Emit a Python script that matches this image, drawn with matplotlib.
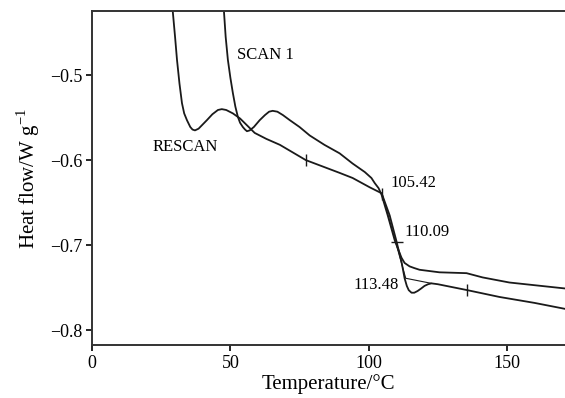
import matplotlib.pyplot as plt

plt.rcParams['font.family'] = ['Liberation Serif', 'DejaVu Serif']

# RESCAN trace (temperature in degC, heat flow in W/g)
rescan_t = [28.8, 29.2, 30.0, 30.7, 31.6, 32.5, 33.3, 34.3, 35.5, 36.3, 37.2,
            38.5, 40.0, 41.5, 43.5, 45.5, 46.9, 48.5, 50.9, 53.5, 56.0, 58.8,
            63.0, 67.9, 77.3, 89.5, 94.2, 100.4, 104.7, 107.6, 110.1, 111.9,
            113.0, 113.8, 114.5, 115.5, 116.5, 117.7, 119.0, 120.2, 121.5,
            122.7, 125.0, 135.7, 147.3, 160.0, 171.0]
rescan_hf = [-0.400, -0.426, -0.455, -0.482, -0.510, -0.533, -0.545, -0.553,
             -0.561, -0.564, -0.565, -0.563, -0.558, -0.553, -0.546, -0.541,
             -0.540, -0.541, -0.545, -0.551, -0.559, -0.568, -0.575, -0.582,
             -0.600, -0.615, -0.621, -0.632, -0.639, -0.665, -0.696, -0.720,
             -0.739, -0.748, -0.753, -0.756, -0.756, -0.754, -0.751, -0.748,
             -0.746, -0.745, -0.746, -0.753, -0.761, -0.768, -0.775]

# SCAN 1 trace
scan1_t = [47.4, 47.7, 48.3, 49.1, 50.0, 50.9, 51.8, 52.7, 53.5, 54.5, 55.3,
           56.0, 57.0, 58.5, 60.6, 62.5, 64.0, 65.3, 67.0, 69.0, 71.5, 75.0,
           78.7, 84.0, 89.5, 94.2, 98.6, 101.0, 102.2, 103.6, 104.7, 106.9,
           109.4, 110.8, 111.9, 113.0, 114.8, 116.5, 118.4, 125.6, 135.4,
           141.2, 150.9, 171.0]
scan1_hf = [-0.400, -0.426, -0.455, -0.482, -0.503, -0.521, -0.537, -0.549,
            -0.556, -0.561, -0.564, -0.566, -0.565, -0.561, -0.553, -0.547,
            -0.543, -0.542, -0.543, -0.547, -0.553, -0.561, -0.571, -0.582,
            -0.592, -0.604, -0.614, -0.621, -0.627, -0.633, -0.641, -0.665,
            -0.694, -0.706, -0.715, -0.721, -0.725, -0.727, -0.729, -0.732,
            -0.733, -0.738, -0.744, -0.751]

# analysis marks on the RESCAN trace
mark_t = [77.3, 104.9, 135.7]
mark_hf = [-0.600, -0.640, -0.753]
mid_t = [110.1]
mid_hf = [-0.696]
tangent_t = [104.9, 113.4, 122.7]
tangent_hf = [-0.640, -0.739, -0.745]

fig = plt.figure(figsize=(5.65, 3.98), dpi=100)
ax = fig.add_axes([0.163, 0.133, 0.837, 0.839])

ax.plot(rescan_t, rescan_hf, color='#1a1a1a', lw=1.3)
ax.plot(scan1_t, scan1_hf, color='#1a1a1a', lw=1.3)
ax.plot(tangent_t, tangent_hf, color='#1a1a1a', lw=0.8)
ax.plot(mark_t, mark_hf, ls='none', marker='|', ms=8, mew=1.0, color='#1a1a1a')
ax.plot(mid_t, mid_hf, ls='none', marker='_', ms=8, mew=1.0, color='#1a1a1a')

ax.text(52.3, -0.476, 'SCAN 1', fontsize=12, va='center', ha='left')
ax.text(21.7, -0.585, 'RESCAN', fontsize=12, va='center', ha='left')
ax.text(108.0, -0.627, '105.42', fontsize=12, va='center', ha='left')
ax.text(113.0, -0.685, '110.09', fontsize=12, va='center', ha='left')
ax.text(110.8, -0.747, '113.48', fontsize=12, va='center', ha='right')

ax.set_xlim(0, 171)
ax.set_ylim(-0.8176, -0.4247)
ax.set_xticks([0, 50, 100, 150])
ax.set_yticks([-0.5, -0.6, -0.7, -0.8])
ax.set_yticklabels(['\u22120.5', '\u22120.6', '\u22120.7', '\u22120.8'])

ax.set_xlabel('Temperature/\u00b0C', fontsize=15, labelpad=2)
ax.set_ylabel('Heat flow/W g$^{\\mathregular{-1}}$', fontsize=15, labelpad=6)

ax.tick_params(direction='out', length=4, width=1.2, labelsize=13, pad=3)
for side in ['left', 'bottom', 'top']:
    ax.spines[side].set_linewidth(1.4)
    ax.spines[side].set_color('#333333')
ax.spines['right'].set_visible(False)

fig.savefig('out.png', dpi=100)
